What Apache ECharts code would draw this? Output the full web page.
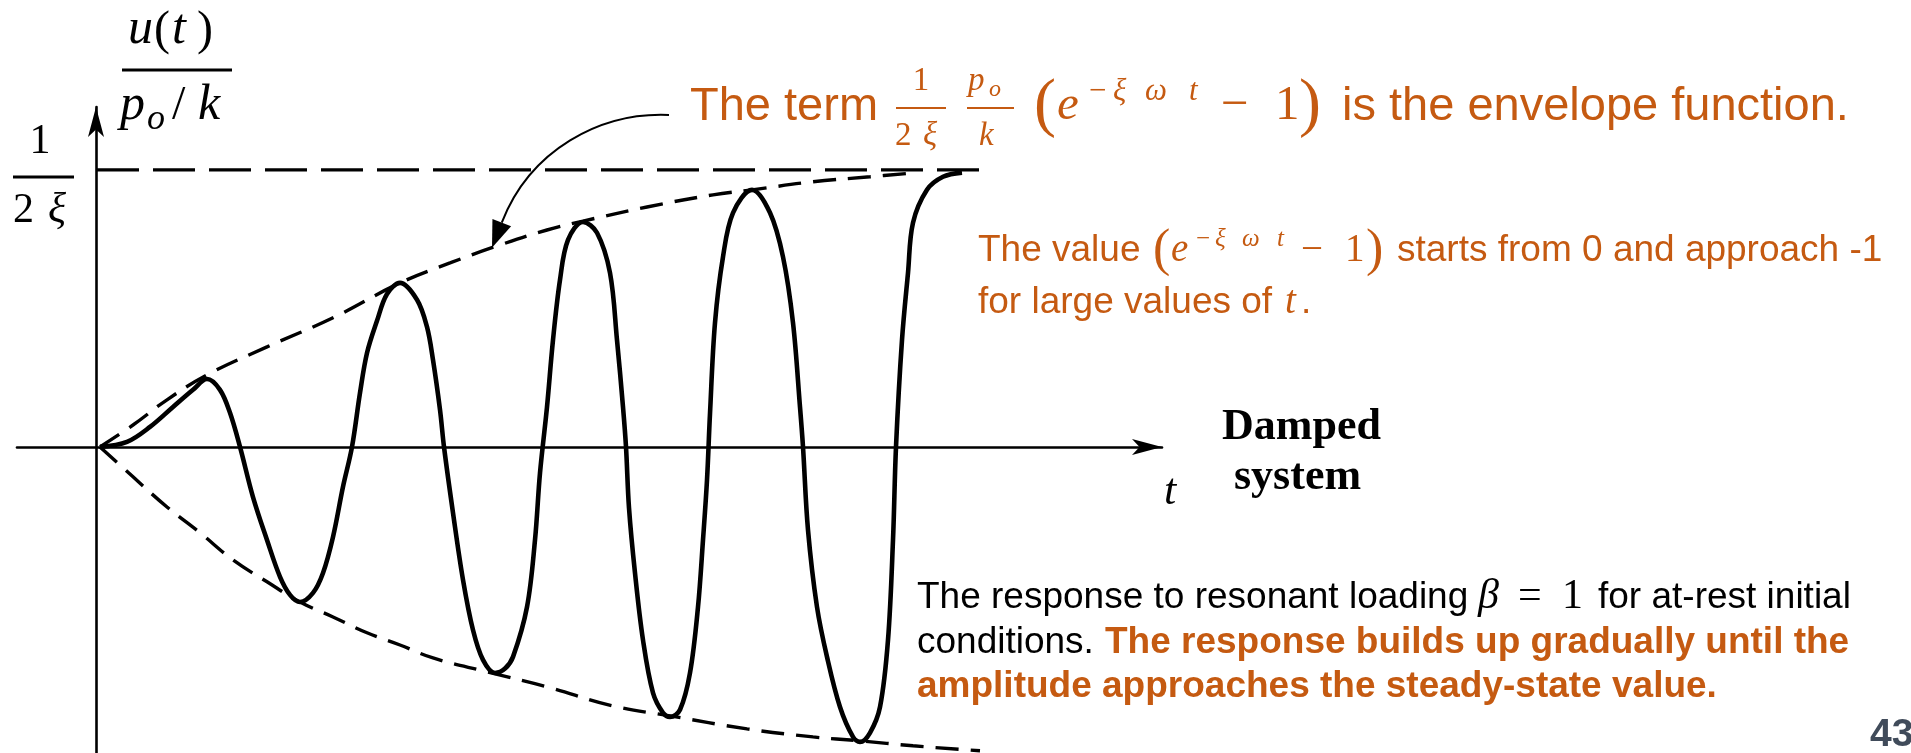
<!DOCTYPE html>
<html>
<head>
<meta charset="utf-8">
<script src="https://cdn.jsdelivr.net/npm/echarts@6/dist/echarts.min.js"></script>
<style>
  html, body { margin: 0; padding: 0; background: #ffffff; }
  #chart { width: 1911px; height: 753px; }
</style>
</head>
<body>
<div id="chart"></div>
<script>
// Response u(t)/(p0/k) of a damped system under resonant loading (beta = 1),
// in units where the steady-state amplitude 1/(2 xi) equals 1.
const respT = [0, 0.27, 0.50, 0.73, 0.93, 1.07, 1.20, 1.30, 1.40, 1.53, 1.67, 1.80, 1.90, 2.00,
  2.13, 2.23, 2.33, 2.43, 2.52, 2.60, 2.67, 2.77, 2.87, 3.00, 3.17, 3.27, 3.33, 3.40, 3.44,
  3.53, 3.63, 3.73, 3.83, 3.95, 4.05, 4.13, 4.27, 4.35, 4.40, 4.47, 4.53, 4.60, 4.68, 4.83,
  4.97, 5.10, 5.17, 5.23, 5.26, 5.29, 5.35, 5.43, 5.53, 5.63, 5.70, 5.80, 5.90, 5.98, 6.03,
  6.07, 6.10, 6.15, 6.23, 6.33, 6.52, 6.70, 6.83, 6.93, 7.00, 7.03, 7.08, 7.17, 7.27, 7.40,
  7.53, 7.60, 7.70, 7.80, 7.88, 7.93, 7.96, 8.02, 8.08, 8.13, 8.27, 8.43, 8.62];
const respU = [0, 0.018, 0.072, 0.144, 0.206, 0.245, 0.206, 0.123, 0, -0.181, -0.336, -0.469, -0.534, -0.560,
  -0.527, -0.455, -0.325, -0.144, 0, 0.195, 0.339, 0.455, 0.552, 0.592, 0.531, 0.433, 0.314, 0.134, 0,
  -0.238, -0.480, -0.661, -0.769, -0.816, -0.800, -0.758, -0.578, -0.336, -0.094, 0.144, 0.386, 0.603, 0.747, 0.812,
  0.773, 0.628, 0.386, 0.144, 0, -0.220, -0.455, -0.697, -0.888, -0.960, -0.975, -0.949, -0.816, -0.578, -0.336,
  -0.120, 0.120, 0.448, 0.686, 0.845, 0.928, 0.845, 0.686, 0.448, 0.144, 0, -0.300, -0.578, -0.758, -0.939,
  -1.047, -1.065, -1.032, -0.939, -0.697, -0.336, 0, 0.386, 0.628, 0.809, 0.928, 0.975, 0.990];

// Envelope curves (dashed)
const upperT = [0, 0.33, 0.67, 1.07, 1.67, 2.33, 3.00, 3.50, 4.00, 4.47, 4.83, 5.47, 6.13, 6.52, 7.13, 7.70, 8.13];
const upperU = [0, 0.079, 0.170, 0.260, 0.361, 0.466, 0.592, 0.664, 0.729, 0.783, 0.815, 0.866, 0.910, 0.928, 0.957, 0.975, 0.989];
const lowerT = [0, 0.33, 0.67, 1.00, 1.33, 1.67, 2.00, 2.33, 2.67, 3.00, 3.33, 3.87, 4.47, 5.13, 5.70, 6.47, 7.13, 7.60, 8.13, 8.80];
const lowerU = [0, -0.108, -0.217, -0.310, -0.408, -0.487, -0.560, -0.614, -0.671, -0.715, -0.762, -0.812, -0.866, -0.935, -0.971, -1.018, -1.047, -1.061, -1.079, -1.097];

// Steady-state level 1/(2 xi)
const steadyT = [-0.03, 8.83];
const steadyU = [1, 1];

// Axis extents
const tRange = [-0.83, 10.62];
const uRange = [-1.105, 1.227];

const pairs = (xs, ys) => xs.map((x, i) => [x, ys[i]]);

const ORANGE = '#c55a11';
const BLACK = '#000000';
const SANS = '"Liberation Sans", Arial, sans-serif';
const SERIF = '"Liberation Serif", "Times New Roman", serif';

const chart = echarts.init(document.getElementById('chart'), null, { renderer: 'canvas' });

const axisLineStyle = {
  show: true,
  symbol: ['none', 'arrow'],
  symbolSize: [12, 30],
  lineStyle: { color: BLACK, width: 2.6 }
};
const axisCommon = {
  type: 'value',
  axisLabel: { show: false },
  axisTick: { show: false },
  splitLine: { show: false }
};

chart.setOption({
  animation: false,
  backgroundColor: '#ffffff',
  grid: { left: 17, right: 749, top: 107, bottom: 0 },
  xAxis: Object.assign({}, axisCommon, {
    min: tRange[0], max: tRange[1],
    axisLine: axisLineStyle
  }),
  // the hand-drawn ordinate sits a few pixels left of the origin
  yAxis: Object.assign({}, axisCommon, {
    min: uRange[0], max: uRange[1], position: 'left', offset: -79,
    axisLine: Object.assign({}, axisLineStyle, { onZero: false })
  }),
  series: [
    {
      name: 'steady', type: 'line', data: pairs(steadyT, steadyU), symbol: 'none',
      lineStyle: { color: BLACK, width: 3.2, type: [42, 14] }, z: 2
    },
    {
      name: 'upper', type: 'line', data: pairs(upperT, upperU), symbol: 'none', smooth: 0.4,
      lineStyle: { color: BLACK, width: 3.4, type: [23, 12] }, z: 2
    },
    {
      name: 'lower', type: 'line', data: pairs(lowerT, lowerU), symbol: 'none', smooth: 0.4,
      lineStyle: { color: BLACK, width: 3.4, type: [23, 12] }, z: 2
    },
    {
      name: 'response', type: 'line', data: pairs(respT, respU), symbol: 'none', smooth: 0.35,
      lineStyle: { color: BLACK, width: 4.6 }, z: 3
    }
  ]
});

// ---- text helpers (baseline-based placement) ----
function txt(x, base, s, o) {
  o = o || {};
  const size = o.size || 37;
  return {
    type: 'text', silent: true, z: 10, x: x, y: base - 0.32 * size,
    style: {
      text: s, fill: o.color || BLACK, fontFamily: o.family || SANS, fontSize: size,
      fontStyle: o.italic ? 'italic' : 'normal', fontWeight: o.bold ? 'bold' : 'normal',
      align: o.align || 'left', verticalAlign: 'middle'
    }
  };
}
function hbar(x1, x2, y, color, w) {
  return { type: 'line', silent: true, z: 10, shape: { x1: x1, y1: y, x2: x2, y2: y },
    style: { stroke: color, lineWidth: w || 2 } };
}
const M = (size, color, italic) => ({ size: size, color: color, family: SERIF, italic: !!italic });

const els = [];

// y-axis label  u(t) / (p_o/k)
els.push(txt(128, 46, 'u', M(50, BLACK, true)));
els.push(txt(154, 47, '(', M(48, BLACK)));
els.push(txt(172, 46, 't', M(50, BLACK, true)));
els.push(txt(197, 47, ')', M(48, BLACK)));
els.push(hbar(122, 232, 70, BLACK, 3));
els.push(txt(120, 122, 'p', M(50, BLACK, true)));
els.push(txt(147, 131, 'o', M(36, BLACK, true)));
els.push(txt(172, 122, '/', M(48, BLACK)));
els.push(txt(198, 122, 'k', M(50, BLACK, true)));

// steady-state level label 1 / (2 xi)
els.push(txt(40, 155, '1', Object.assign(M(42, BLACK), { align: 'center' })));
els.push(hbar(13, 74, 177, BLACK, 3));
els.push(txt(13, 224, '2', M(42, BLACK)));
els.push(txt(48, 224, 'ξ', M(42, BLACK, true)));

// time axis label and system name
els.push(txt(1164, 507, 't', M(44, BLACK, true)));
els.push(txt(1222, 442, 'Damped', Object.assign(M(44, BLACK), { bold: true })));
els.push(txt(1234, 492, 'system', Object.assign(M(44, BLACK), { bold: true })));

// heading: The term 1/(2xi) p_o/k (e^{-xi w t} - 1) is the envelope function.
els.push(txt(690, 122, 'The term', { size: 47, color: ORANGE }));
els.push(txt(921, 92, '1', Object.assign(M(33, ORANGE), { align: 'center' })));
els.push(hbar(896, 946, 108, ORANGE, 2));
els.push(txt(895, 147, '2', M(33, ORANGE)));
els.push(txt(923, 147, 'ξ', M(33, ORANGE, true)));
els.push(txt(968, 92, 'p', M(33, ORANGE, true)));
els.push(txt(989, 97, 'o', M(24, ORANGE, true)));
els.push(hbar(967, 1014, 108, ORANGE, 2));
els.push(txt(979, 147, 'k', M(33, ORANGE, true)));
els.push(txt(1034, 128, '(', M(66, ORANGE)));
els.push(txt(1057, 122, 'e', M(49, ORANGE, true)));
els.push(txt(1089, 102, '−', M(31, ORANGE)));
els.push(txt(1113, 102, 'ξ', M(31, ORANGE, true)));
els.push(txt(1145, 102, 'ω', M(31, ORANGE, true)));
els.push(txt(1189, 102, 't', M(31, ORANGE, true)));
els.push(txt(1221, 122, '−', M(49, ORANGE)));
els.push(txt(1275, 122, '1', M(49, ORANGE)));
els.push(txt(1299, 128, ')', M(66, ORANGE)));
els.push(txt(1342, 122, 'is the envelope function.', { size: 47, color: ORANGE }));

// note on the envelope factor
els.push(txt(978, 263, 'The value', { size: 37, color: ORANGE }));
els.push(txt(1153, 268, '(', M(52, ORANGE)));
els.push(txt(1171, 263, 'e', M(39, ORANGE, true)));
els.push(txt(1196, 247, '−', M(25, ORANGE)));
els.push(txt(1215, 247, 'ξ', M(25, ORANGE, true)));
els.push(txt(1242, 247, 'ω', M(25, ORANGE, true)));
els.push(txt(1277, 247, 't', M(25, ORANGE, true)));
els.push(txt(1301, 263, '−', M(39, ORANGE)));
els.push(txt(1345, 263, '1', M(39, ORANGE)));
els.push(txt(1366, 268, ')', M(52, ORANGE)));
els.push(txt(1397, 263, 'starts from 0 and approach -1', { size: 37, color: ORANGE }));
els.push(txt(978, 315, 'for large values of', { size: 37, color: ORANGE }));
els.push(txt(1285, 315, 't', M(39, ORANGE, true)));
els.push(txt(1301, 315, '.', { size: 37, color: ORANGE }));

// caption
els.push(txt(917, 610, 'The response to resonant loading', { size: 37, color: BLACK }));
els.push(txt(1478, 610, 'β', M(42, BLACK, true)));
els.push(txt(1518, 610, '=', M(42, BLACK)));
els.push(txt(1562, 610, '1', M(42, BLACK)));
els.push(txt(1598, 610, 'for at-rest initial', { size: 37, color: BLACK }));
els.push(txt(917, 655, 'conditions.', { size: 37, color: BLACK }));
els.push(txt(1105, 655, 'The response builds up gradually until the', { size: 37, color: ORANGE, bold: true }));
els.push(txt(917, 699, 'amplitude approaches the steady-state value.', { size: 37, color: ORANGE, bold: true }));

// slide number
els.push(txt(1870, 748, '43', { size: 39, color: '#404b5a', bold: true }));

// curved pointer from the heading to the upper envelope
function interp(xs, ys, x) {
  for (let i = 1; i < xs.length; i++) {
    if (x <= xs[i]) {
      const f = (x - xs[i - 1]) / (xs[i] - xs[i - 1]);
      return ys[i - 1] + f * (ys[i] - ys[i - 1]);
    }
  }
  return ys[ys.length - 1];
}
const tipT = 3.92;
const tip = chart.convertToPixel({ gridIndex: 0 }, [tipT, interp(upperT, upperU, tipT)]);
const tail = [669, 115], c1 = [600, 112], c2 = [530, 150];
const ddx = tip[0] - c2[0], ddy = tip[1] - c2[1];
const dl = Math.hypot(ddx, ddy);
const ux = ddx / dl, uy = ddy / dl;
const headLen = 27, headHalf = 10;
const hb = [tip[0] - ux * headLen, tip[1] - uy * headLen];
els.push({
  type: 'bezierCurve', silent: true, z: 9,
  shape: { x1: tail[0], y1: tail[1], x2: hb[0], y2: hb[1], cpx1: c1[0], cpy1: c1[1], cpx2: c2[0], cpy2: c2[1] },
  style: { stroke: BLACK, lineWidth: 2, fill: 'none' }
});
els.push({
  type: 'polygon', silent: true, z: 9,
  shape: { points: [tip, [hb[0] - uy * headHalf, hb[1] + ux * headHalf], [hb[0] + uy * headHalf, hb[1] - ux * headHalf]] },
  style: { fill: BLACK }
});

chart.setOption({ graphic: els });
</script>
</body>
</html>
